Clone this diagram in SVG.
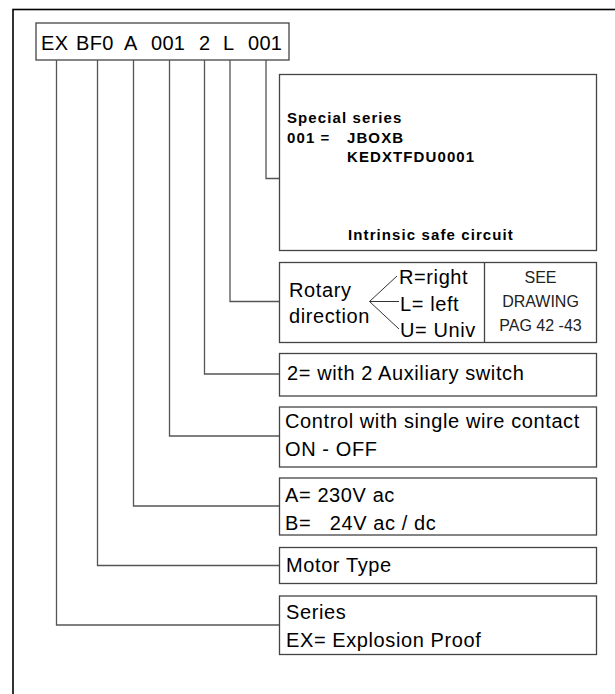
<svg xmlns="http://www.w3.org/2000/svg" width="615" height="694" viewBox="0 0 615 694">
<style>
.box{fill:#fff;stroke:#444;stroke-width:1.3}
.t{font-family:"Liberation Sans",Arial,sans-serif;font-size:20px;letter-spacing:0.6px;fill:#000}
.b{font-family:"Liberation Sans",Arial,sans-serif;font-size:15px;font-weight:bold;letter-spacing:1.1px;fill:#000}
.s{font-family:"Liberation Sans",Arial,sans-serif;font-size:16px;fill:#222;text-anchor:middle}
.c{fill:none;stroke:#555;stroke-width:1.3}
</style>
<rect x="0" y="0" width="615" height="694" fill="#fff"/>
<rect x="13" y="9.5" width="700" height="800" fill="none" stroke="#000" stroke-width="1.6"/>
<g id="code">
<rect class="box" x="36" y="23" width="253" height="37"/>
<text class="t" y="50" style="letter-spacing:0.3px"><tspan x="41">EX</tspan><tspan x="76">BF0</tspan><tspan x="124">A</tspan><tspan x="151">001</tspan><tspan x="199">2</tspan><tspan x="223">L</tspan><tspan x="248">001</tspan></text>
</g>
<g id="connectors">
<polyline class="c" points="266,60 266,178.5 279.5,178.5"/>
<polyline class="c" points="230,60 230,301.5 279.5,301.5"/>
<polyline class="c" points="204.5,60 204.5,374 279.5,374"/>
<polyline class="c" points="169.5,60 169.5,436 279.5,436"/>
<polyline class="c" points="133.5,60 133.5,506 279.5,506"/>
<polyline class="c" points="97.5,60 97.5,565.5 279.5,565.5"/>
<polyline class="c" points="56.5,60 56.5,625 279.5,625"/>
</g>
<g id="special">
<rect class="box" x="279.5" y="74.5" width="317" height="176"/>
<text class="b" x="287" y="123">Special series</text>
<text class="b" x="287" y="143">001 =</text>
<text class="b" x="347" y="143">JBOXB</text>
<text class="b" x="347" y="162">KEDXTFDU0001</text>
<text class="b" x="348" y="240">Intrinsic safe circuit</text>
</g>
<g id="rotary">
<rect class="box" x="279.5" y="262.5" width="317" height="80"/>
<line x1="484.5" y1="262.5" x2="484.5" y2="342.5" stroke="#444" stroke-width="1.3"/>
<text class="t" x="289" y="297">Rotary</text>
<text class="t" x="289" y="323">direction</text>
<polyline fill="none" stroke="#333" stroke-width="1" points="397,276 369.5,301.5 399,329"/>
<line stroke="#333" stroke-width="1" x1="369.5" y1="301.5" x2="399" y2="301.5"/>
<text class="t" x="399" y="284">R=right</text>
<text class="t" x="400" y="311">L= left</text>
<text class="t" x="400" y="337">U= Univ</text>
<text class="s" x="540.5" y="283">SEE</text>
<text class="s" x="540.5" y="307">DRAWING</text>
<text class="s" x="540.5" y="331">PAG 42 -43</text>
</g>
<g id="aux">
<rect class="box" x="279.5" y="353.5" width="317" height="42.5"/>
<text class="t" x="287" y="380">2= with 2 Auxiliary switch</text>
</g>
<g id="control">
<rect class="box" x="279.5" y="407" width="317" height="60"/>
<text class="t" x="285" y="428">Control with single wire contact</text>
<text class="t" x="285" y="456">ON - OFF</text>
</g>
<g id="voltage">
<rect class="box" x="279.5" y="478" width="317" height="57"/>
<text class="t" x="285" y="502">A= 230V ac</text>
<text class="t" x="285" y="530" xml:space="preserve">B=   24V ac / dc</text>
</g>
<g id="motor">
<rect class="box" x="279.5" y="547.5" width="317" height="36"/>
<text class="t" x="286" y="572">Motor Type</text>
</g>
<g id="series">
<rect class="box" x="279.5" y="596" width="317" height="58.5"/>
<text class="t" x="286" y="619">Series</text>
<text class="t" x="286" y="647">EX= Explosion Proof</text>
</g>
</svg>
